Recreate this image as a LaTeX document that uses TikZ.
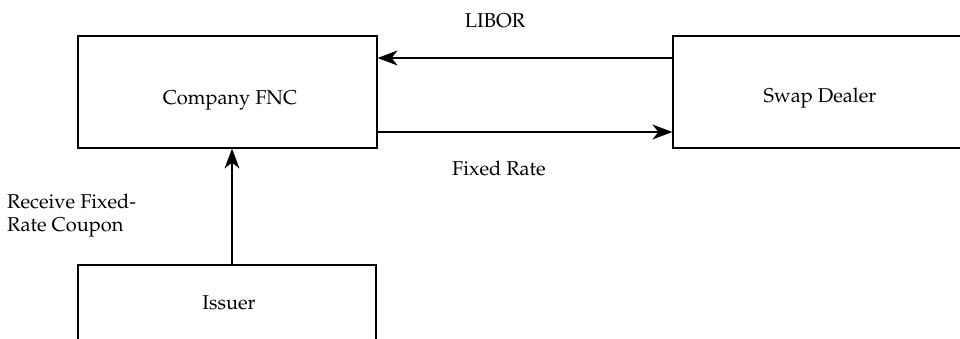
\documentclass[tikz,border=0pt]{standalone}
\usepackage[T1]{fontenc}
\usepackage{mathpazo}
\usetikzlibrary{arrows.meta}
\begin{document}
\begin{tikzpicture}[x=1pt,y=-1pt,
  every node/.style={font=\fontsize{20}{23}\selectfont},
  party/.style={draw, line width=1.2pt, inner sep=0pt},
  flow/.style={line width=1.3pt, -{Stealth[length=20pt,width=15pt,inset=6pt]}},
  lbl/.style={inner sep=0pt}]
\useasboundingbox (0,0) rectangle (960,338);
\clip (0,0) rectangle (960,338);
\node[party, minimum width=299pt, minimum height=112pt] (fnc) at (227.5,92) {};
\node[party, minimum width=294pt, minimum height=112pt] (swap) at (820,92) {};
\node[party, minimum width=298pt, minimum height=78pt] (issuer) at (227,304) {};
\node[lbl, anchor=base] (fnctext) at (230,104) {Company FNC};
\node[lbl, anchor=base] (swaptext) at (820,102) {Swap Dealer};
\node[lbl, anchor=base] (issuertext) at (229,309.5) {Issuer};
\draw[flow] ([yshift=34pt]swap.west) -- ([yshift=34pt]fnc.east);
\draw[flow] ([yshift=-40pt]fnc.east) -- ([yshift=-40pt]swap.west);
\draw[flow] ([xshift=5pt]issuer.north) -- ([xshift=4.5pt]fnc.south);
\node[lbl, anchor=base] (libor) at (495,27) {LIBOR};
\node[lbl, anchor=base] (fixed) at (499,175) {Fixed Rate};
\node[lbl, anchor=base west, align=left] (recv) at (7,231) {Receive Fixed-\\Rate Coupon};
\end{tikzpicture}
\end{document}
